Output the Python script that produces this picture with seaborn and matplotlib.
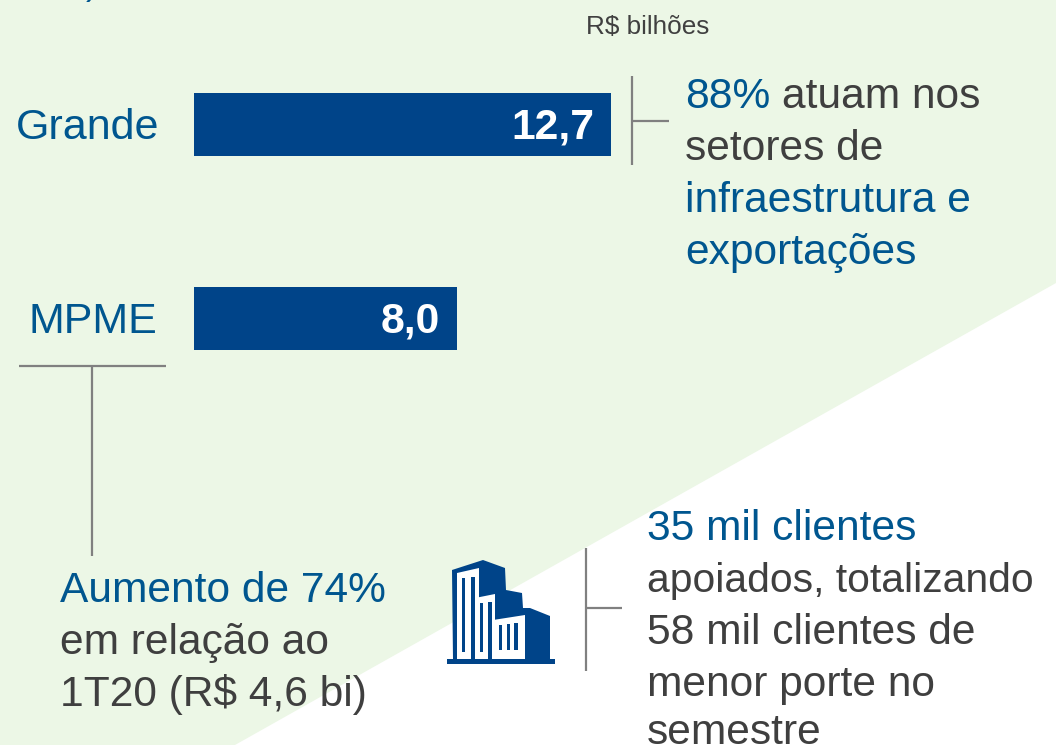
import matplotlib
matplotlib.use('Agg')
import matplotlib.pyplot as plt
from matplotlib.patches import Polygon
import pandas as pd
import seaborn as sns

categorias = ['Grande', 'MPME']
valores = [12.7, 8.0]
rotulos = ['12,7', '8,0']
unidade = 'R$ bilhões'

AZUL = '#004489'
TEAL = '#00568F'
CINZA = '#3F3F3F'
LINHA = '#808080'
VERDE = '#ECF7E6'
W, H = 1056, 745

sns.set_theme(style='white')
plt.rcParams['font.family'] = ['Liberation Sans', 'DejaVu Sans']

fig = plt.figure(figsize=(W / 100, H / 100), dpi=100)

# fundo e anotacoes em pixels
bg = fig.add_axes([0, 0, 1, 1])
bg.set_xlim(0, W)
bg.set_ylim(H, 0)
bg.axis('off')
bg.add_patch(Polygon([(0, 0), (W, 0), (W, 283), (235, H), (0, H)], color=VERDE, lw=0))

# barras
ax = fig.add_axes([194 / W, 0, 1 - 194 / W, 1])
ax.patch.set_alpha(0)
df = pd.DataFrame({'porte': categorias, 'valor': valores})
sns.barplot(data=df, x='valor', y='porte', color=AZUL, saturation=1, width=63 / 194, linewidth=0, ax=ax)
ax.set_xlim(0, (W - 194) / (417 / 12.7))
ax.set_ylim((H - 124) / 194, -124 / 194)
ax.axis('off')
for i, (v, r) in enumerate(zip(valores, rotulos)):
    ax.text(v - 0.5, i + 0.02, r, color='white', fontsize=30.7, fontweight='bold', ha='right', va='center')


def txt(x, y, s, c=CINZA, size=30.6):
    bg.text(x, y, s, color=c, fontsize=size, ha='left', va='baseline', zorder=5)


def linha(x0, y0, x1, y1):
    bg.plot([x0, x1], [y0, y1], color=LINHA, lw=1.6, solid_capstyle='butt', zorder=3)


txt(86, -6, ')', TEAL, 26)
txt(586, 34, unidade, '#404040', 18.8)
txt(16, 139, categorias[0], TEAL, 31)
txt(29, 333, categorias[1], TEAL, 31)

txt(685, 108, '88%', TEAL)
txt(782, 108, 'atuam nos')
txt(685, 160, 'setores de')
txt(685, 212, 'infraestrutura e', TEAL)
txt(685, 264, 'exportações', TEAL)

txt(60, 602, 'Aumento de 74%', TEAL)
txt(60, 654, 'em relação ao')
txt(60, 706, '1T20 (R$ 4,6 bi)')

txt(647, 540, '35 mil clientes', TEAL)
txt(647, 592, 'apoiados, totalizando', CINZA, 29.4)
txt(647, 644, '58 mil clientes de')
txt(647, 696, 'menor porte no')
txt(647, 744, 'semestre')

linha(632, 76, 632, 165)
linha(632, 121, 669, 121)
linha(19, 366, 166, 366)
linha(92, 366, 92, 556)
linha(586, 548, 586, 671)
linha(586, 608, 622, 608)

# icone do predio
icone = [(452, 570), (483, 560), (505, 568), (506, 590), (522, 593), (523, 608), (530, 608),
         (550, 616), (550, 659), (555, 659), (555, 664), (447, 664), (447, 659), (453, 659)]
bg.add_patch(Polygon(icone, color=AZUL, lw=0, zorder=4))
for p in [[(457, 573), (479, 568), (479, 659), (457, 659)],
          [(475, 598), (495, 594), (495, 659), (475, 659)],
          [(493, 620), (525, 615), (525, 659), (493, 659)]]:
    bg.add_patch(Polygon(p, color='white', lw=0, zorder=5))
for x0, x1, y0, y1 in [(462, 465, 578, 652), (471, 475, 577, 659), (480, 483, 603, 652), (488, 492, 602, 659),
                       (499, 502, 625, 650), (507, 510, 624, 650), (514, 518, 623, 650)]:
    bg.add_patch(Polygon([(x0, y0), (x1, y0), (x1, y1), (x0, y1)], color=AZUL, lw=0, zorder=6))

fig.savefig('out.png', dpi=100)
